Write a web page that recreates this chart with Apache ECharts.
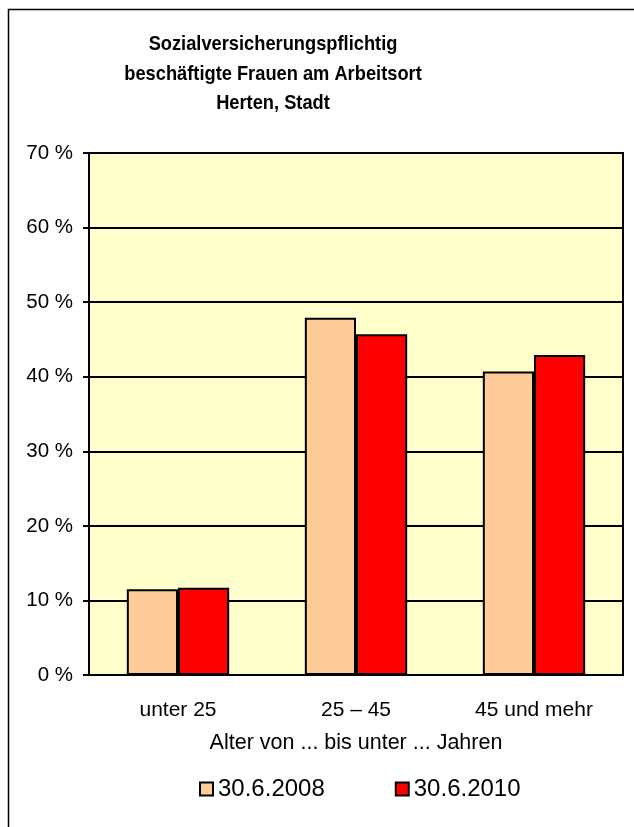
<!DOCTYPE html>
<html>
<head>
<meta charset="utf-8">
<script src="https://cdn.jsdelivr.net/npm/echarts@6/dist/echarts.min.js"></script>
<style>
html,body{margin:0;padding:0;background:#fff;}
#c{width:634px;height:827px;}
</style>
</head>
<body>
<div id="c"></div>
<script>
var titleLines = ['Sozialversicherungspflichtig', 'beschäftigte Frauen am Arbeitsort', 'Herten, Stadt'];
var categories = ['unter 25', '25 – 45', '45 und mehr'];
var seriesNames = ['30.6.2008', '30.6.2010'];
var values2008 = [11.5, 47.9, 40.7];
var values2010 = [11.7, 45.7, 42.9];
var xAxisName = 'Alter von ... bis unter ... Jahren';
var yMin = 0, yMax = 70, yStep = 10;

var FONT = '"Liberation Sans", Arial, sans-serif';
var titleGraphics = titleLines.map(function (line, i) {
  return {
    type: 'text', silent: true,
    x: 273, y: 44.5 + i * 29.5,
    scaleX: 0.87, scaleY: 1,
    style: {
      text: line, fill: '#000',
      font: 'bold 21px ' + FONT,
      textAlign: 'center', textVerticalAlign: 'middle'
    }
  };
});

var chart = echarts.init(document.getElementById('c'), null, {renderer: 'canvas'});
chart.setOption({
  animation: false,
  backgroundColor: '#ffffff',
  textStyle: {fontFamily: FONT},
  graphic: [{
    type: 'rect', silent: true, z: -1,
    shape: {x: 8.5, y: 9.5, width: 700, height: 900},
    style: {fill: null, stroke: '#000', lineWidth: 1.5}
  }].concat(titleGraphics),
  legend: {
    left: 199, top: 777, padding: 0,
    itemWidth: 13, itemHeight: 13, itemGap: 70,
    icon: 'rect',
    textStyle: {fontFamily: FONT, fontSize: 24, color: '#000'},
    data: seriesNames
  },
  grid: {left: 89, right: 11, top: 153, bottom: 152, show: true, backgroundColor: '#FFFFCC', borderColor: '#000', borderWidth: 2},
  xAxis: {
    type: 'category', data: categories,
    name: xAxisName, nameLocation: 'middle', nameGap: 57,
    nameTextStyle: {fontFamily: FONT, fontSize: 21.5, color: '#000'},
    axisLine: {lineStyle: {color: '#000', width: 2}},
    axisTick: {show: false},
    axisLabel: {fontFamily: FONT, fontSize: 21, color: '#000', margin: 25}
  },
  yAxis: {
    type: 'value', min: yMin, max: yMax, interval: yStep,
    axisLine: {show: true, lineStyle: {color: '#000', width: 2}},
    axisTick: {show: true, length: 6, lineStyle: {color: '#000', width: 2}},
    axisLabel: {fontFamily: FONT, fontSize: 20.5, color: '#000', margin: 16, formatter: '{value} %'},
    splitLine: {show: true, lineStyle: {color: '#000', width: 2}}
  },
  series: [
    {name: seriesNames[0], type: 'bar', data: values2008, barGap: '0%', barCategoryGap: '42.5%',
     itemStyle: {color: '#FFCC99', borderColor: '#000', borderWidth: 2}},
    {name: seriesNames[1], type: 'bar', data: values2010,
     itemStyle: {color: '#FF0000', borderColor: '#000', borderWidth: 2}}
  ]
});
</script>
</body>
</html>
